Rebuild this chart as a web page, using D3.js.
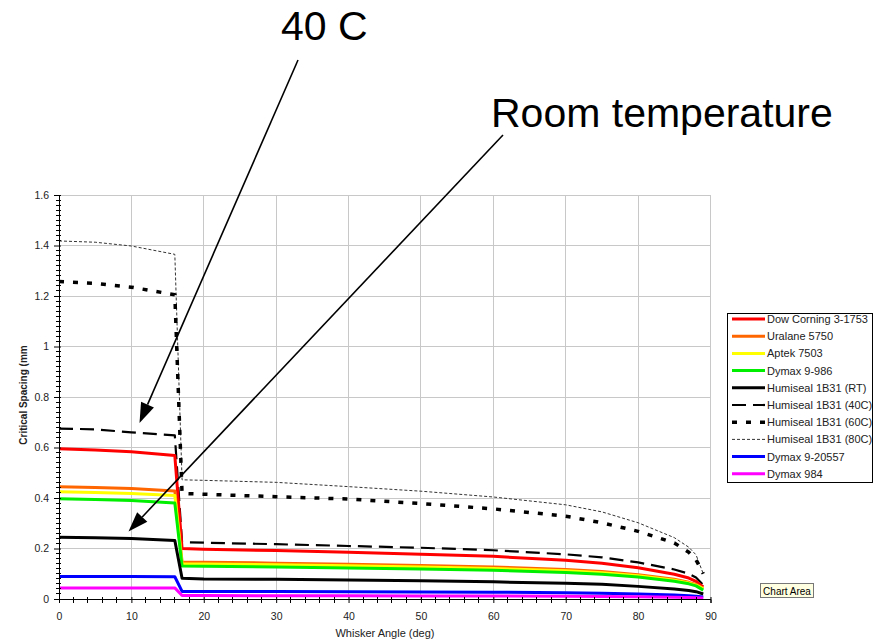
<!DOCTYPE html>
<html>
<head>
<meta charset="utf-8">
<script src="https://cdn.jsdelivr.net/npm/d3@7"></script>
<style>
  html, body { margin: 0; padding: 0; background: #fff; }
  svg { display: block; }
  text { font-family: "Liberation Sans", Arial, sans-serif; }
</style>
</head>
<body>
<svg id="chart" width="882" height="643"></svg>
<script>
// ---- data ----
const angles = [0, 5, 10, 16, 17, 20, 30, 40, 50, 60, 70, 75, 80, 85, 87, 88, 89];

const dowCorning   = [0.595, 0.590, 0.583, 0.568, 0.200, 0.197, 0.192, 0.185, 0.177, 0.169, 0.153, 0.142, 0.124, 0.098, 0.083, 0.070, 0.048];
const uralane      = [0.445, 0.442, 0.438, 0.428, 0.147, 0.146, 0.142, 0.138, 0.133, 0.127, 0.117, 0.109, 0.096, 0.078, 0.066, 0.058, 0.042];
const aptek        = [0.425, 0.422, 0.418, 0.410, 0.140, 0.139, 0.136, 0.132, 0.127, 0.121, 0.112, 0.104, 0.092, 0.074, 0.063, 0.055, 0.040];
const dymax986     = [0.397, 0.394, 0.390, 0.380, 0.131, 0.130, 0.127, 0.123, 0.119, 0.114, 0.105, 0.098, 0.087, 0.070, 0.060, 0.052, 0.035];
const humisealRT   = [0.245, 0.243, 0.240, 0.232, 0.082, 0.079, 0.078, 0.075, 0.072, 0.068, 0.062, 0.058, 0.050, 0.040, 0.034, 0.029, 0.020];
const humiseal40   = [0.675, 0.672, 0.660, 0.648, 0.225, 0.223, 0.217, 0.210, 0.203, 0.193, 0.177, 0.165, 0.145, 0.117, 0.100, 0.085, 0.056];
const humiseal60   = [1.257, 1.250, 1.235, 1.205, 0.418, 0.415, 0.405, 0.396, 0.378, 0.357, 0.328, 0.302, 0.268, 0.222, 0.185, 0.155, 0.100];
const humiseal80   = [1.418, 1.413, 1.398, 1.365, 0.472, 0.470, 0.462, 0.445, 0.427, 0.404, 0.373, 0.345, 0.302, 0.243, 0.205, 0.175, 0.100];
const dymax20557   = [0.089, 0.089, 0.089, 0.088, 0.030, 0.030, 0.030, 0.029, 0.028, 0.027, 0.025, 0.023, 0.020, 0.016, 0.013, 0.011, 0.008];
const dymax984     = [0.044, 0.044, 0.044, 0.044, 0.014, 0.014, 0.013, 0.013, 0.012, 0.012, 0.011, 0.010, 0.009, 0.007, 0.006, 0.005, 0.004];

const seriesNames = ["Dow Corning 3-1753", "Uralane 5750", "Aptek 7503", "Dymax 9-986",
  "Humiseal 1B31 (RT)", "Humiseal 1B31 (40C)", "Humiseal 1B31 (60C)", "Humiseal 1B31 (80C)",
  "Dymax 9-20557", "Dymax 984"];
const seriesValues = [dowCorning, uralane, aptek, dymax986, humisealRT, humiseal40, humiseal60, humiseal80, dymax20557, dymax984];

const xTicks = [0, 10, 20, 30, 40, 50, 60, 70, 80, 90];
const yTicks = [0, 0.2, 0.4, 0.6, 0.8, 1, 1.2, 1.4, 1.6];

// ---- styles ----
const styles = [
  { color: "#ff0000", width: 3, dash: null },
  { color: "#ff6600", width: 3, dash: null },
  { color: "#ffff00", width: 3, dash: null },
  { color: "#00ee00", width: 3, dash: null },
  { color: "#000000", width: 3, dash: null },
  { color: "#000000", width: 2.2, dash: "14,7" },
  { color: "#000000", width: 3.5, dash: "5,9" },
  { color: "#333333", width: 1, dash: "3,2" },
  { color: "#0000ff", width: 3, dash: null },
  { color: "#ff00ff", width: 3, dash: null }
];

const svg = d3.select("#chart");
const x = d3.scaleLinear().domain([0, 90]).range([59, 710.5]);
const y = d3.scaleLinear().domain([0, 1.6]).range([599, 195]);

// gridlines
const grid = svg.append("g");
grid.selectAll("line.gx").data(xTicks.slice(1)).join("line")
  .attr("x1", d => x(d)).attr("x2", d => x(d))
  .attr("y1", y(0)).attr("y2", y(1.6))
  .attr("stroke", "#c8c8c8").attr("stroke-width", 1).attr("shape-rendering", "crispEdges");
grid.selectAll("line.gy").data(yTicks.slice(1)).join("line")
  .attr("x1", x(0)).attr("x2", x(90))
  .attr("y1", d => y(d)).attr("y2", d => y(d))
  .attr("stroke", "#c8c8c8").attr("stroke-width", 1).attr("shape-rendering", "crispEdges");

// series
const line = d3.line().x((d, i) => x(angles[i])).y(d => y(d));
const order = [7, 6, 5, 0, 1, 2, 3, 4, 8, 9];
order.forEach(k => {
  const s = styles[k];
  svg.append("path")
    .datum(seriesValues[k])
    .attr("d", line)
    .attr("fill", "none")
    .attr("stroke", s.color)
    .attr("stroke-width", s.width)
    .attr("stroke-linejoin", "round")
    .attr("stroke-dasharray", s.dash);
});

// axes
const xAxis = svg.append("g").attr("transform", `translate(0,${y(0)})`)
  .call(d3.axisBottom(x).tickValues(xTicks).tickFormat(d3.format("d")).tickSize(4).tickPadding(10));
xAxis.select(".domain").attr("stroke", "#000");
xAxis.selectAll(".tick line").attr("y1", -2);
xAxis.selectAll("text").attr("font-size", 10.5).attr("fill", "#222").attr("font-family", "Liberation Sans, Arial, sans-serif");
// x minor ticks
svg.append("g").selectAll("line").data(d3.range(2, 90, 2).filter(d => d % 10 !== 0)).join("line")
  .attr("x1", d => x(d)).attr("x2", d => x(d))
  .attr("y1", y(0) - 2).attr("y2", y(0) + 4)
  .attr("stroke", "#000").attr("shape-rendering", "crispEdges");

const yAxis = svg.append("g").attr("transform", `translate(${x(0)},0)`)
  .call(d3.axisLeft(y).tickValues(yTicks).tickFormat(d => d3.format("~g")(d)).tickSize(5).tickPadding(5));
yAxis.select(".domain").attr("stroke", "#000");
yAxis.selectAll(".tick line").attr("x1", 2);
yAxis.selectAll("text").attr("font-size", 10.5).attr("fill", "#222").attr("font-family", "Liberation Sans, Arial, sans-serif");
// y minor ticks
svg.append("g").selectAll("line").data(d3.range(1, 80).filter(d => d % 10 !== 0).map(d => d * 0.02)).join("line")
  .attr("x1", x(0) - 3).attr("x2", x(0) + 2)
  .attr("y1", d => y(d)).attr("y2", d => y(d))
  .attr("stroke", "#000").attr("shape-rendering", "crispEdges");

// axis titles
svg.append("text").attr("x", 385).attr("y", 637).attr("text-anchor", "middle")
  .attr("font-size", 11).attr("fill", "#222").text("Whisker Angle (deg)");
svg.append("text").attr("transform", "translate(27,395) rotate(-90)").attr("text-anchor", "middle")
  .attr("font-size", 10).attr("font-weight", "bold").attr("fill", "#222").text("Critical Spacing (mm");

// legend
const lg = svg.append("g");
lg.append("rect").attr("x", 727.5).attr("y", 313.5).attr("width", 145).attr("height", 169)
  .attr("fill", "#fff").attr("stroke", "#000").attr("stroke-width", 1);
seriesNames.forEach((name, i) => {
  const cy = 319 + i * 17.2;
  const s = styles[i];
  lg.append("line").attr("x1", 732).attr("x2", 765).attr("y1", cy).attr("y2", cy)
    .attr("stroke", s.color).attr("stroke-width", s.width).attr("stroke-dasharray", s.dash);
  lg.append("text").attr("x", 767).attr("y", cy + 4).attr("font-size", 11).attr("fill", "#222").text(name);
});

// tooltip "Chart Area"
svg.append("rect").attr("x", 760.5).attr("y", 583.5).attr("width", 53).attr("height", 14)
  .attr("fill", "#ffffe1").attr("stroke", "#777").attr("stroke-width", 1);
svg.append("text").attr("x", 787).attr("y", 594.5).attr("text-anchor", "middle")
  .attr("font-size", 10).attr("fill", "#000").text("Chart Area");

// annotations
svg.append("text").attr("x", 281).attr("y", 39.5).attr("font-size", 41).attr("fill", "#000").text("40 C");
svg.append("text").attr("x", 491).attr("y", 126.5).attr("font-size", 41).attr("fill", "#000").text("Room temperature");

function arrow(x1, y1, x2, y2) {
  const ang = Math.atan2(y2 - y1, x2 - x1);
  const L = 20, W = 7;
  const bx = x2 - L * Math.cos(ang), by = y2 - L * Math.sin(ang);
  svg.append("line").attr("x1", x1).attr("y1", y1).attr("x2", bx).attr("y2", by)
    .attr("stroke", "#000").attr("stroke-width", 1.6);
  const p = [[x2, y2],
    [bx + W * Math.sin(ang), by - W * Math.cos(ang)],
    [bx - W * Math.sin(ang), by + W * Math.cos(ang)]];
  svg.append("path").attr("d", d3.line()(p) + "Z").attr("fill", "#000");
}
arrow(298, 60, 139.5, 423);
arrow(503, 135, 128.5, 531.5);
</script>
</body>
</html>
